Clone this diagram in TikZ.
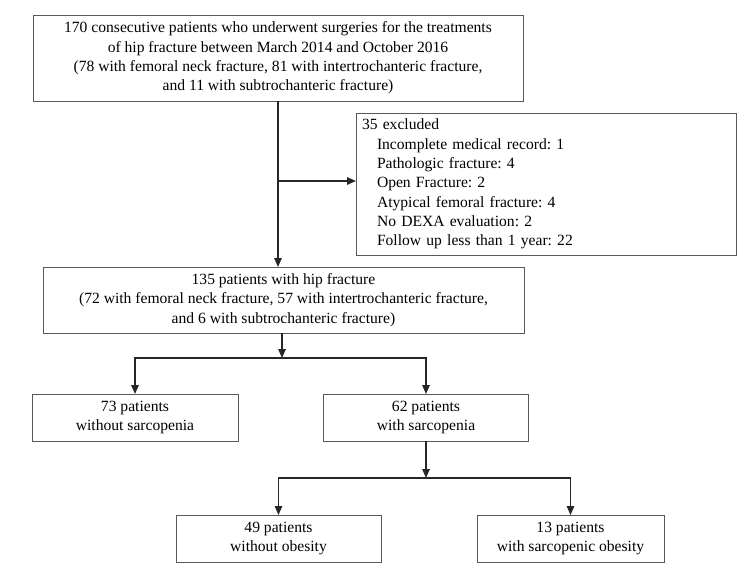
\documentclass[tikz,border=0pt]{standalone}
\usepackage{fontspec}
\setmainfont{Liberation Serif}
\usepackage{tikz}
\usetikzlibrary{arrows.meta,positioning}
\frenchspacing

\begin{document}
\begin{tikzpicture}
[
    x = 1pt, y = -1pt,
    every node/.style = {font = \fontsize{15.6}{19.3}\selectfont, outer sep = 0pt},
    box/.style = {draw = black!65, line width = 0.9pt, align = center, inner sep = 0pt},
    pair/.style = {box, minimum width = 205pt, minimum height = 47pt},
    link/.style = {line width = 1.5pt, color = black!85, -{Triangle[length = 9pt, width = 7.5pt]}}
]
\useasboundingbox (0,0) rectangle (750,576);

\node[box, minimum width = 490pt, minimum height = 86pt] (all) at (278,58)
	{170 consecutive patients who underwent surgeries for the treatments\\
	 of hip fracture between March 2014 and October 2016\\
	 (78 with femoral neck fracture, 81 with intertrochanteric fracture,\\
	 and 11 with subtrochanteric fracture)};
\node[box, align = left, text width = 368pt, inner xsep = 6pt, minimum height = 142pt] (excl) at (546,184)
	{35 excluded\\
	 \hspace*{15pt}Incomplete medical record: 1\\
	 \hspace*{15pt}Pathologic fracture: 4\\
	 \hspace*{15pt}Open Fracture: 2\\
	 \hspace*{15pt}Atypical femoral fracture: 4\\
	 \hspace*{15pt}No DEXA evaluation: 2\\
	 \hspace*{15pt}Follow up less than 1 year: 22};
\node[box, minimum width = 481pt, minimum height = 66pt] (hip) at (283.5,300)
	{135 patients with hip fracture\\
	 (72 with femoral neck fracture, 57 with intertrochanteric fracture,\\
	 and 6 with subtrochanteric fracture)};
\node[pair, minimum width = 206pt] (nosarc) at (135,417.5) {73 patients\\ without sarcopenia};
\node[pair] (sarc) at (426,417.5) {62 patients\\ with sarcopenia};
\node[pair] (noobes) at (278.5,538.5) {49 patients\\ without obesity};
\node[pair, minimum width = 187pt] (obes) at (570.5,538.5) {13 patients\\ with sarcopenic obesity};

\coordinate (split1) at (282,358);
\coordinate (split2) at (sarc.south |- 0,478);

\draw[link] (all.south) -- (all.south |- hip.north);
\draw[link] (all.south |- 0,181) -- (excl.west |- 0,181);
\draw[link] (split1 |- hip.south) -- (split1);
\draw[link] (split1) -| (nosarc.north);
\draw[link] (split1) -| (sarc.north);
\draw[link] (sarc.south) -- (split2);
\draw[link] (split2) -| (noobes.north);
\draw[link] (split2) -| (obes.north);
\end{tikzpicture}
\end{document}
